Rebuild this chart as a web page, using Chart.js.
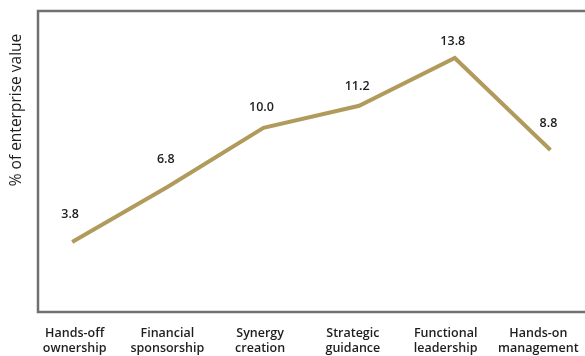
<!DOCTYPE html>
<html>
<head>
<meta charset="utf-8">
<script src="https://cdn.jsdelivr.net/npm/chart.js"></script>
<style>
  html, body { margin: 0; padding: 0; background: #fff; }
  #wrap { width: 585px; height: 356px; }
</style>
</head>
<body>
<div id="wrap"><canvas id="valueChart"></canvas></div>
<script>
// Categories and values
var categories = [
    ['Hands-off', 'ownership'],
    ['Financial', 'sponsorship'],
    ['Synergy', 'creation'],
    ['Strategic', 'guidance'],
    ['Functional', 'leadership'],
    ['Hands-on', 'management']
];
var enterpriseValue = [3.8, 6.8, 10.0, 11.2, 13.8, 8.8];
var axisTitle = '% of enterprise value';

// how far each value label sits above its point (px)
var labelLift = [28, 27, 20, 19, 17, 27];

var textColor = '#1e1e1e';
var frameColor = '#707070';

// Frame around the plot (right side runs off the page)
var framePlugin = {
    id: 'frame',
    beforeDatasetsDraw: function (chart) {
        var a = chart.chartArea, ctx = chart.ctx;
        ctx.save();
        ctx.strokeStyle = frameColor;
        ctx.lineWidth = 2.5;
        ctx.beginPath();
        ctx.moveTo(a.right + 5, a.top);
        ctx.lineTo(a.left, a.top);
        ctx.lineTo(a.left, a.bottom);
        ctx.lineTo(a.right + 5, a.bottom);
        ctx.stroke();
        ctx.restore();
    }
};

// Value labels above the points and the rotated axis title
var labelPlugin = {
    id: 'valueLabels',
    afterDatasetsDraw: function (chart) {
        var ctx = chart.ctx;
        var meta = chart.getDatasetMeta(0);
        ctx.save();
        ctx.fillStyle = textColor;
        ctx.font = '600 12.5px "Open Sans"';
        ctx.textAlign = 'center';
        ctx.textBaseline = 'middle';
        meta.data.forEach(function (pt, i) {
            ctx.fillText(enterpriseValue[i].toFixed(1), pt.x - 2, pt.y - labelLift[i]);
        });

        ctx.font = '15.5px "Open Sans"';
        ctx.translate(17, 110);
        ctx.rotate(-Math.PI / 2);
        ctx.fillText(axisTitle, 0, 0);
        ctx.restore();
    }
};

new Chart(document.getElementById('valueChart').getContext('2d'), {
    type: 'line',
    data: {
        datasets: [{
            data: enterpriseValue.map(function (v, i) { return { x: i, y: v }; }),
            xAxisID: 'x',
            yAxisID: 'y',
            borderColor: '#b19b5c',
            borderWidth: 4,
            pointRadius: 0,
            tension: 0,
            fill: false
        }]
    },
    options: {
        responsive: true,
        maintainAspectRatio: false,
        animation: false,
        layout: { padding: { left: 38, top: 11, right: 0, bottom: 0 } },
        plugins: {
            legend: { display: false },
            tooltip: { enabled: false }
        },
        scales: {
            x: {
                type: 'linear',
                display: false,
                min: -0.357,
                max: 5.31
            },
            names: {
                type: 'linear',
                position: 'bottom',
                min: -0.395,
                max: 5.45,
                grid: { display: false },
                border: { display: false },
                afterFit: function (scale) { scale.height = 44; },
                ticks: {
                    stepSize: 1,
                    includeBounds: false,
                    maxRotation: 0,
                    autoSkip: false,
                    padding: 6,
                    color: textColor,
                    font: { family: 'Open Sans', size: 12.5, weight: 600, lineHeight: 1.2 },
                    callback: function (value) {
                        return Number.isInteger(value) ? categories[value] : '';
                    }
                }
            },
            y: {
                display: false,
                min: 0,
                max: 16.35
            }
        }
    },
    plugins: [framePlugin, labelPlugin]
});
</script>
</body>
</html>
